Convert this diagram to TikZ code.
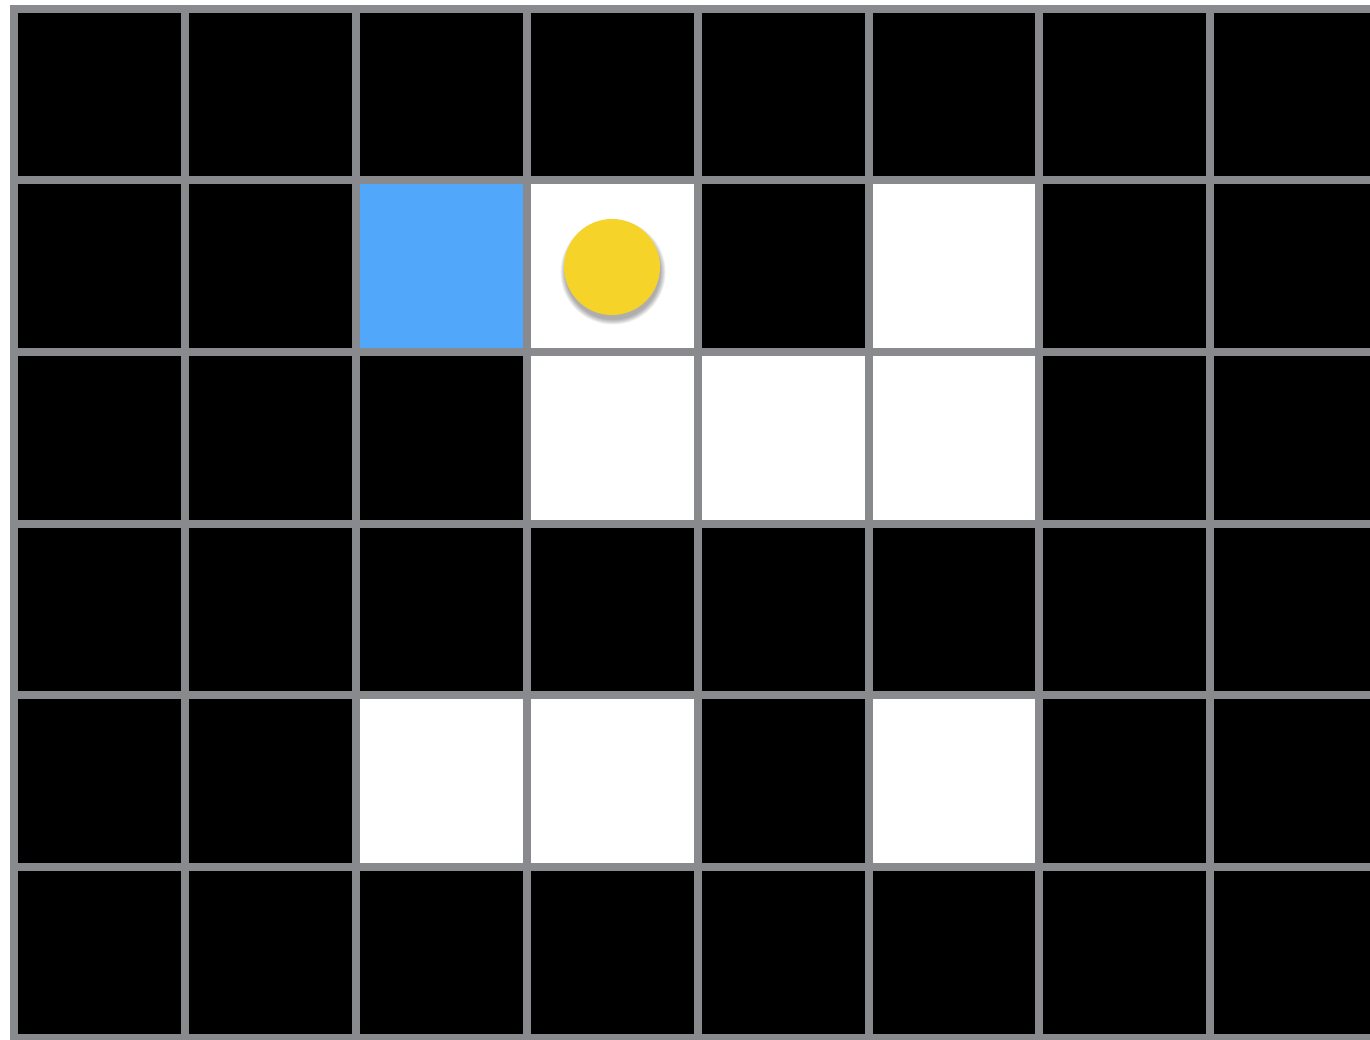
\documentclass[tikz,border=0pt]{standalone}
\definecolor{gridgray}{HTML}{898A8E}
\definecolor{cellblue}{HTML}{51A7F9}
\definecolor{ballyellow}{HTML}{F5D328}
\tikzset{
  gridline/.style={draw=gridgray,line width=8pt},
}
\begin{document}
\begin{tikzpicture}[x=1pt,y=-1pt]
\useasboundingbox (0,0) rectangle (1370,1040);
\fill[white] (0,0) rectangle (1370,1040);
\begin{scope}
\clip (0,0) rectangle (1370,1040);
\def\ox{14}\def\oy{9}\def\cw{170.9}\def\ch{171.5}
\fill[black] (\ox,\oy) rectangle (1400,1060);
% white cells (col,row)
\foreach \c/\r in {3/1,5/1,3/2,4/2,5/2,2/4,3/4,5/4}{
  \fill[white] ({\ox+\c*\cw},{\oy+\r*\ch}) rectangle ({\ox+(\c+1)*\cw},{\oy+(\r+1)*\ch});
}
\fill[cellblue] ({\ox+2*\cw},{\oy+1*\ch}) rectangle ({\ox+3*\cw},{\oy+2*\ch});
% grid lines
\foreach \c in {0,...,8}{
  \draw[gridline] ({\ox+\c*\cw},{\oy-4}) -- ({\ox+\c*\cw},1060);
}
\foreach \r in {0,...,6}{
  \draw[gridline] ({\ox-4},{\oy+\r*\ch}) -- (1400,{\oy+\r*\ch});
}
% ball shadow
\foreach \i in {1,...,7}{
  \fill[black,opacity=0.05] (613,272) circle ({47+\i*0.8});
}
\node[circle,fill=ballyellow,minimum size=96pt,inner sep=0pt] (ball) at (612,267) {};
\end{scope}
\end{tikzpicture}
\end{document}
